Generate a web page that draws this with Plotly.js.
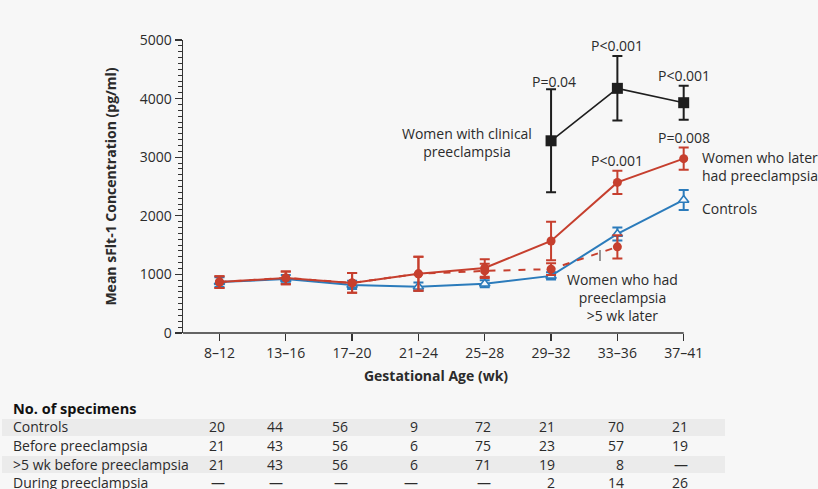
<!DOCTYPE html>
<html>
<head>
<meta charset="utf-8">
<script src="https://cdn.plot.ly/plotly-3.0.1.min.js"></script>
<style>
html,body{margin:0;padding:0;background:#f7f7f7;}
#chart{width:818px;height:489px;}
</style>
</head>
<body>
<div id="chart"></div>
<script>
// ---------- DATA ----------
const categories = ['8–12','13–16','17–20','21–24','25–28','29–32','33–36','37–41'];
const controls      = [870, 920, 820, 790, 840, 975, 1690, 2270];
const controlsErr   = [80, 70, 70, 70, 60, 60, 110, 170];
const beforePE      = [870, 940, 855, 1010, 1110, 1570, 2570, 2975];
const beforePEErr   = [100, 110, 170, 290, 150, 330, 200, 190];
const earlyPE       = [870, 940, 855, 1010, 1060, 1090, 1470, null];
const earlyPEErr    = [100, 110, 170, 290, 120, 100, 200, null];
const clinicalPE    = [null, null, null, null, null, 3280, 4175, 3930];
const clinicalPEErr = [null, null, null, null, null, 880, 550, 290];

const tableTitle = 'No. of specimens';
const tableRows = ['Controls', 'Before preeclampsia', '>5 wk before preeclampsia', 'During preeclampsia'];
const nControls = ['20','44','56','9','72','21','70','21'];
const nBefore   = ['21','43','56','6','75','23','57','19'];
const nEarly    = ['21','43','56','6','71','19','8','—'];
const nDuring   = ['—','—','—','—','—','2','14','26'];

// ---------- LAYOUT HELPERS ----------
const W = 818, H = 489;
const M = {l:183, r:129, t:40, b:156};
const PW = W - M.l - M.r, PH = H - M.t - M.b;
const paperX = px => (px - M.l) / PW;
const paperY = py => (H - M.b - py) / PH;
const FONT = '"Open Sans", "DejaVu Sans", sans-serif';
const TXT = '#2b2b2b';
const RED = '#c63f2e', BLUE = '#2b7bbb', BLACK = '#1e1e1e';
const X_MIN = -0.55, X_END = 7;   // axis line spans X_MIN..X_END; range padded so end caps are not clipped

const traces = [
  {
    x: categories, y: controls, type: 'scatter', mode: 'lines+markers', name: 'Controls', cliponaxis: false,
    line: {color: BLUE, width: 2},
    marker: {symbol: 'triangle-up', size: 9, color: '#f4f8fc', line: {color: BLUE, width: 1.6}},
    error_y: {type: 'data', array: controlsErr, visible: true, color: BLUE, thickness: 2, width: 5}
  },
  {
    x: categories, y: earlyPE, type: 'scatter', mode: 'lines+markers', name: '>5 wk later', cliponaxis: false,
    line: {color: RED, width: 2, dash: '7px,8px'},
    marker: {symbol: 'circle', size: 9, color: RED},
    error_y: {type: 'data', array: earlyPEErr, visible: true, color: RED, thickness: 2, width: 5}
  },
  {
    x: categories, y: beforePE, type: 'scatter', mode: 'lines+markers', name: 'Later PE', cliponaxis: false,
    line: {color: RED, width: 2},
    marker: {symbol: 'circle', size: 9, color: RED},
    error_y: {type: 'data', array: beforePEErr, visible: true, color: RED, thickness: 2, width: 5}
  },
  {
    x: categories, y: clinicalPE, type: 'scatter', mode: 'lines+markers', name: 'Clinical PE', cliponaxis: false,
    connectgaps: false,
    line: {color: BLACK, width: 1.6},
    marker: {symbol: 'square', size: 11, color: BLACK},
    error_y: {type: 'data', array: clinicalPEErr, visible: true, color: BLACK, thickness: 2, width: 5}
  }
];

// chart annotations (pixel positions converted to paper space)
function lab(text, px, py, xanchor, size) {
  return {text: text, xref: 'paper', yref: 'paper', x: paperX(px), y: paperY(py),
    xanchor: xanchor || 'center', yanchor: 'middle', showarrow: false, align: xanchor === 'left' ? 'left' : 'center',
    font: {family: FONT, size: size || 14, color: TXT}};
}
const annotations = [
  lab('P=0.04', 554, 81),
  lab('P&lt;0.001', 617, 45),
  lab('P&lt;0.001', 684, 75),
  lab('P=0.008', 684, 137),
  lab('P&lt;0.001', 617, 160),
  lab('Women with clinical<br>preeclampsia', 467, 142),
  lab('Women who later<br>had preeclampsia', 700, 166, 'left'),
  lab('Controls', 700, 209, 'left'),
  lab('Women who had<br>preeclampsia<br>&gt;5 wk later', 622, 297),
  {text: ' ', xref: 'paper', yref: 'paper', x: paperX(600), y: paperY(250), ax: 0, ay: 22,
   showarrow: true, arrowhead: 0, arrowwidth: 1.2, arrowcolor: '#555', standoff: 0, startstandoff: 0}
];

// table
annotations.push({text: '<b>' + tableTitle + '</b>', xref: 'paper', yref: 'paper', x: paperX(11), y: paperY(408),
  xanchor: 'left', yanchor: 'middle', showarrow: false, font: {family: FONT, size: 14.5, color: '#111'}});
const rowY = [427, 445, 464, 482];
const colRight = [227, 285, 350, 420, 493, 557, 626, 690];
const rowsData = [nControls, nBefore, nEarly, nDuring];
tableRows.forEach((r, i) => {
  annotations.push({text: r.replace('>', '&gt;'), xref: 'paper', yref: 'paper', x: paperX(11), y: paperY(rowY[i]),
    xanchor: 'left', yanchor: 'middle', showarrow: false, font: {family: FONT, size: 14, color: TXT}});
  rowsData[i].forEach((v, j) => {
    annotations.push({text: v, xref: 'paper', yref: 'paper', x: paperX(colRight[j]), y: paperY(rowY[i]),
      xanchor: 'right', yanchor: 'middle', showarrow: false, font: {family: FONT, size: 14, color: TXT}});
  });
});

const shapes = [
  {type: 'rect', xref: 'paper', yref: 'paper', x0: paperX(2), x1: paperX(725), y0: paperY(419), y1: paperY(436),
   fillcolor: '#ebebeb', line: {width: 0}, layer: 'below'},
  {type: 'rect', xref: 'paper', yref: 'paper', x0: paperX(2), x1: paperX(725), y0: paperY(456), y1: paperY(473),
   fillcolor: '#ebebeb', line: {width: 0}, layer: 'below'},
  // x axis baseline ending at the last tick
  {type: 'line', xref: 'x', yref: 'paper', x0: X_MIN, x1: X_END, y0: 0, y1: 0,
   line: {color: '#333', width: 1.5}, layer: 'above'}
];

const layout = {
  width: W, height: H,
  margin: M,
  paper_bgcolor: '#f7f7f7', plot_bgcolor: '#f7f7f7',
  showlegend: false,
  font: {family: FONT, color: TXT, size: 14},
  xaxis: {
    type: 'category', range: [X_MIN, 7.08], showgrid: false, zeroline: false,
    showline: false,
    ticks: 'outside', ticklen: 7, tickwidth: 1.3, tickcolor: '#333',
    tickfont: {family: FONT, size: 14, color: TXT},
    title: {text: '<b>Gestational Age (wk)</b>', font: {family: FONT, size: 14, color: TXT}, standoff: 10}
  },
  yaxis: {
    range: [0, 5000], dtick: 1000, showgrid: false, zeroline: false,
    showline: true, linecolor: '#333', linewidth: 1.5,
    ticks: 'outside', ticklen: 7, tickwidth: 1.3, tickcolor: '#333',
    minor: {dtick: 100, ticks: 'outside', ticklen: 4, tickwidth: 1, tickcolor: '#333', showgrid: false},
    tickfont: {family: FONT, size: 14, color: TXT},
    title: {text: '<b>Mean sFlt-1 Concentration (pg/ml)</b>', font: {family: FONT, size: 14, color: TXT}, standoff: 20}
  },
  annotations: annotations,
  shapes: shapes
};

Plotly.newPlot('chart', traces, layout, {displayModeBar: false, staticPlot: true});
</script>
</body>
</html>
